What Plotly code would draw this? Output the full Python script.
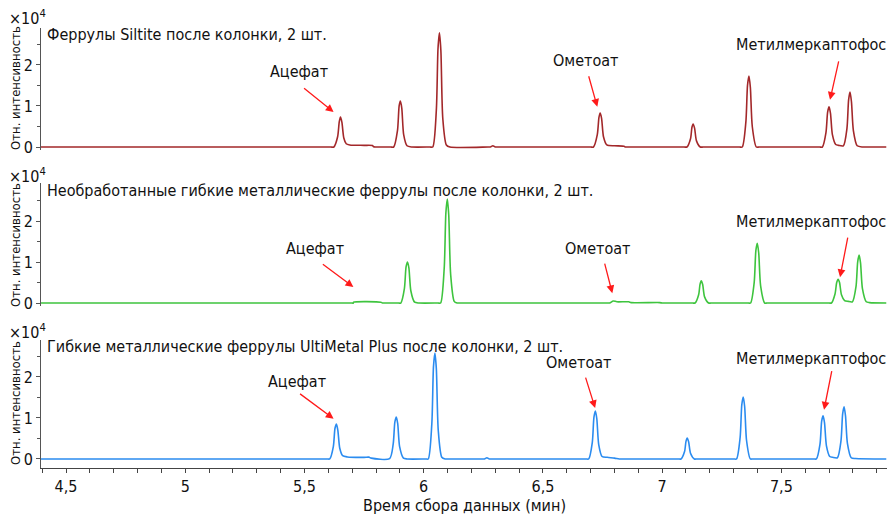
import plotly.graph_objects as go

# ---- data (intensity in units of 1e4) ----
t_top = [4.395, 5.61, 5.623, 5.639, 5.646, 5.651, 5.657, 5.665, 5.675, 5.69, 5.75, 5.785, 5.79, 5.80,
         5.862, 5.874, 5.89, 5.897, 5.902, 5.908, 5.916, 5.93, 5.95,
         6.026, 6.038, 6.053, 6.06, 6.066, 6.072, 6.08, 6.095, 6.11,
         6.27, 6.28, 6.29, 6.30, 6.31,
         6.70, 6.712, 6.728, 6.735, 6.740, 6.746, 6.754, 6.768, 6.80, 6.84, 6.845, 6.855,
         7.092, 7.104, 7.119, 7.125, 7.130, 7.136, 7.144, 7.16, 7.172,
         7.324, 7.336, 7.351, 7.358, 7.364, 7.370, 7.378, 7.395, 7.407,
         7.66, 7.672, 7.687, 7.694, 7.700, 7.706, 7.714, 7.728, 7.74,
         7.760, 7.775, 7.782, 7.788, 7.794, 7.802, 7.818, 7.84, 7.85, 7.94]
y_top = [0, 0, 0, 0.25, 0.62, 0.73, 0.6, 0.22, 0.08, 0.05, 0.04, 0.035, 0.005, 0,
         0, 0, 0.4, 1.0, 1.12, 0.95, 0.3, 0.03, 0,
         0, 0, 0.9, 2.4, 2.78, 2.35, 0.7, 0.05, 0,
         0, 0, 0.03, 0, 0,
         0, 0, 0.3, 0.72, 0.83, 0.7, 0.25, 0.05, 0.03, 0.02, 0, 0,
         0, 0, 0.2, 0.48, 0.56, 0.46, 0.15, 0, 0,
         0, 0, 0.6, 1.5, 1.73, 1.45, 0.5, 0, 0,
         0, 0, 0.35, 0.85, 0.98, 0.82, 0.3, 0.06, 0.04,
         0.03, 0.45, 1.15, 1.34, 1.1, 0.4, 0.03, 0, 0, 0]

t_mid = [4.395, 5.695, 5.705, 5.706, 5.82, 5.827, 5.837,
         5.894, 5.904, 5.919, 5.926, 5.932, 5.938, 5.946, 5.962, 5.98,
         6.06, 6.071, 6.086, 6.093, 6.099, 6.105, 6.113, 6.128, 6.14, 6.15,
         6.77, 6.78, 6.795, 6.81, 6.86, 6.87, 6.99, 7.0, 7.01,
         7.128, 7.138, 7.153, 7.159, 7.164, 7.170, 7.178, 7.195, 7.205,
         7.361, 7.371, 7.386, 7.393, 7.399, 7.405, 7.413, 7.43, 7.44,
         7.70, 7.71, 7.725, 7.732, 7.738, 7.744, 7.752, 7.765, 7.78,
         7.798, 7.813, 7.820, 7.826, 7.832, 7.840, 7.856, 7.87, 7.94]
y_mid = [0, 0, 0, 0.02, 0.02, 0, 0,
         0, 0, 0.35, 0.88, 1.0, 0.85, 0.3, 0.02, 0,
         0, 0, 0.85, 2.2, 2.54, 2.15, 0.7, 0.04, 0, 0,
         0, 0, 0.05, 0.03, 0.03, 0.01, 0.01, 0, 0,
         0, 0, 0.2, 0.46, 0.54, 0.45, 0.15, 0, 0,
         0, 0, 0.5, 1.28, 1.46, 1.22, 0.42, 0, 0,
         0, 0, 0.22, 0.5, 0.58, 0.5, 0.2, 0.06, 0.04,
         0.03, 0.4, 1.0, 1.17, 0.98, 0.35, 0.03, 0.01, 0]

t_bot = [4.395, 5.594, 5.606, 5.621, 5.628, 5.634, 5.640, 5.648, 5.660, 5.68, 5.75, 5.77, 5.78,
         5.857, 5.872, 5.879, 5.885, 5.891, 5.899, 5.915, 5.93,
         6.008, 6.019, 6.034, 6.041, 6.047, 6.053, 6.061, 6.076, 6.09, 6.10,
         6.245, 6.255, 6.265, 6.275, 6.285,
         6.68, 6.692, 6.707, 6.714, 6.720, 6.726, 6.734, 6.748, 6.77, 6.80, 6.82, 6.83,
         7.067, 7.079, 7.094, 7.100, 7.105, 7.111, 7.119, 7.135, 7.147,
         7.30, 7.312, 7.327, 7.334, 7.340, 7.346, 7.354, 7.37, 7.38,
         7.635, 7.647, 7.662, 7.669, 7.675, 7.681, 7.689, 7.703, 7.715,
         7.735, 7.750, 7.757, 7.763, 7.769, 7.777, 7.793, 7.81, 7.94]
y_bot = [0, 0, 0, 0.3, 0.75, 0.85, 0.7, 0.26, 0.08, 0.05, 0.04, 0.045, 0.02,
         0.01, 0.36, 0.9, 1.02, 0.86, 0.3, 0.02, 0,
         0, 0, 0.85, 2.25, 2.58, 2.2, 0.7, 0.04, 0, 0,
         0, 0, 0.03, 0, 0,
         0, 0, 0.4, 1.02, 1.17, 0.98, 0.35, 0.06, 0.04, 0.02, 0, 0,
         0, 0, 0.18, 0.43, 0.51, 0.42, 0.14, 0, 0,
         0, 0, 0.52, 1.32, 1.51, 1.28, 0.45, 0, 0,
         0, 0, 0.36, 0.92, 1.05, 0.88, 0.32, 0.06, 0.04,
         0.03, 0.44, 1.1, 1.27, 1.05, 0.38, 0.03, 0.01, 0]

panel_titles = ["Феррулы Siltite после колонки, 2 шт.",
                "Необработанные гибкие металлические феррулы после колонки, 2 шт.",
                "Гибкие металлические феррулы UltiMetal Plus после колонки, 2 шт."]
compounds = ["Ацефат", "Ометоат", "Метилмеркаптофос"]
# arrow tips (time, intensity) per panel for each compound
arrow_tips = [[(5.622, 0.85), (6.728, 0.98), (7.704, 1.15)],
              [(5.705, 0.39), (6.791, 0.24), (7.746, 0.63)],
              [(5.622, 0.98), (6.719, 1.24), (7.679, 1.20)]]
arrow_tails = [[(-31, -25), (-9, -32), (9, -40)],
               [(-32, -24), (-8, -31), (8, -41)],
               [(-35, -26), (-10, -32), (8, -40)]]
label_pos = [[(5.476, 1.83), (6.678, 2.12), (7.625, 2.49)],
             [(5.546, 1.32), (6.727, 1.34), (7.625, 1.98)],
             [(5.470, 1.90), (6.648, 2.34), (7.625, 2.44)]]
x_tickvals = [4.5, 5, 5.5, 6, 6.5, 7, 7.5]
x_ticktext = ["4,5", "5", "5,5", "6", "6,5", "7", "7,5"]
y_tickvals = [0, 1, 2]

colors = ["#a3282a", "#3ec43e", "#2b8cf0"]
series = [(t_top, y_top), (t_mid, y_mid), (t_bot, y_bot)]

FONT = "Liberation Sans Narrow, DejaVu Sans Condensed, Arial Narrow, sans-serif"
W, H = 887, 514
ML, MR, MT, MB = 41, 0, 0, 46
PW, PH = W - ML - MR, H - MT - MB

def px_x(px):
    return (px - ML) / PW

def px_y(py):
    return (H - MB - py) / PH

domains = [[px_y(150), px_y(28)], [px_y(306), px_y(183)], [px_y(468), px_y(340)]]
yranges = [[-0.073, 2.90], [-0.073, 2.93], [-0.22, 2.90]]
title_y = [35, 190, 346]
mult_y = [18, 175, 332]
ytitle_y = [88, 245, 403]

fig = go.Figure()
for i, (tt, yy) in enumerate(series):
    fig.add_trace(go.Scatter(x=tt, y=yy, mode="lines",
                             line=dict(color=colors[i], width=1.6, shape="spline", smoothing=0.7),
                             xaxis="x" if i == 0 else f"x{i+1}",
                             yaxis="y" if i == 0 else f"y{i+1}",
                             showlegend=False, hoverinfo="skip"))

layout = dict(width=W, height=H, margin=dict(l=ML, r=MR, t=MT, b=MB),
              plot_bgcolor="white", paper_bgcolor="white",
              font=dict(family=FONT, color="#111", size=15),
              separators=", ", showlegend=False)

for i in range(3):
    xk = "xaxis" if i == 0 else f"xaxis{i+1}"
    yk = "yaxis" if i == 0 else f"yaxis{i+1}"
    ya = "y" if i == 0 else f"y{i+1}"
    xa = dict(domain=[0, 1], range=[4.395, 7.943], anchor=ya, showgrid=False, zeroline=False)
    if i < 2:
        xa.update(visible=False)
    else:
        xa.update(showline=True, linecolor="#444", linewidth=1, ticks="outside", ticklen=4,
                  tickcolor="#444", tickvals=x_tickvals, ticktext=x_ticktext,
                  tickfont=dict(size=16, family=FONT),
                  minor=dict(dtick=0.1, tick0=4.4, ticks="outside", ticklen=4, tickcolor="#444"))
    layout[xk] = xa
    layout[yk] = dict(domain=domains[i], range=yranges[i], anchor="x" if i == 0 else f"x{i+1}",
                      showline=True, linecolor="#555", linewidth=1, ticks="outside", ticklen=4,
                      tickcolor="#555", tickvals=y_tickvals, showgrid=False, zeroline=False,
                      tickfont=dict(size=16, family=FONT),
                      minor=dict(dtick=0.5, ticks="outside", ticklen=3, tickcolor="#555"))

fig.update_layout(**layout)

anns = [dict(x=px_x(464), y=px_y(506), xref="paper", yref="paper",
             text="Время сбора данных (мин)", showarrow=False,
             xanchor="center", yanchor="middle",
             font=dict(size=16, family=FONT, color="#111"))]
for i in range(3):
    xr = "x" if i == 0 else f"x{i+1}"
    yr = "y" if i == 0 else f"y{i+1}"
    anns.append(dict(x=px_x(45), y=px_y(title_y[i]), xref="paper", yref="paper",
                     text=panel_titles[i], showarrow=False, xanchor="left", yanchor="middle",
                     font=dict(size=16, family=FONT, color="#111")))
    anns.append(dict(x=px_x(7), y=px_y(mult_y[i]), xref="paper", yref="paper",
                     text="×10<sup>4</sup>", showarrow=False, xanchor="left", yanchor="middle",
                     font=dict(size=16, family=FONT, color="#111")))
    anns.append(dict(x=px_x(15), y=px_y(ytitle_y[i]), xref="paper", yref="paper",
                     text="Отн. интенсивность", showarrow=False, textangle=-90,
                     xanchor="center", yanchor="middle",
                     font=dict(size=13, family=FONT, color="#111")))
    for j in range(3):
        lx, ly = label_pos[i][j]
        anns.append(dict(x=lx, y=ly, xref=xr, yref=yr, text=compounds[j], showarrow=False,
                         xanchor="center", yanchor="middle",
                         font=dict(size=16, family=FONT, color="#111")))
        ax_, ay_ = arrow_tips[i][j]
        dx, dy = arrow_tails[i][j]
        anns.append(dict(x=ax_, y=ay_, xref=xr, yref=yr, text="", showarrow=True,
                         ax=dx, ay=dy, arrowhead=2, arrowsize=1.2, arrowwidth=1.3,
                         arrowcolor="#ff1a1a", standoff=0))
fig.update_layout(annotations=anns)

fig.write_html("out.html")
